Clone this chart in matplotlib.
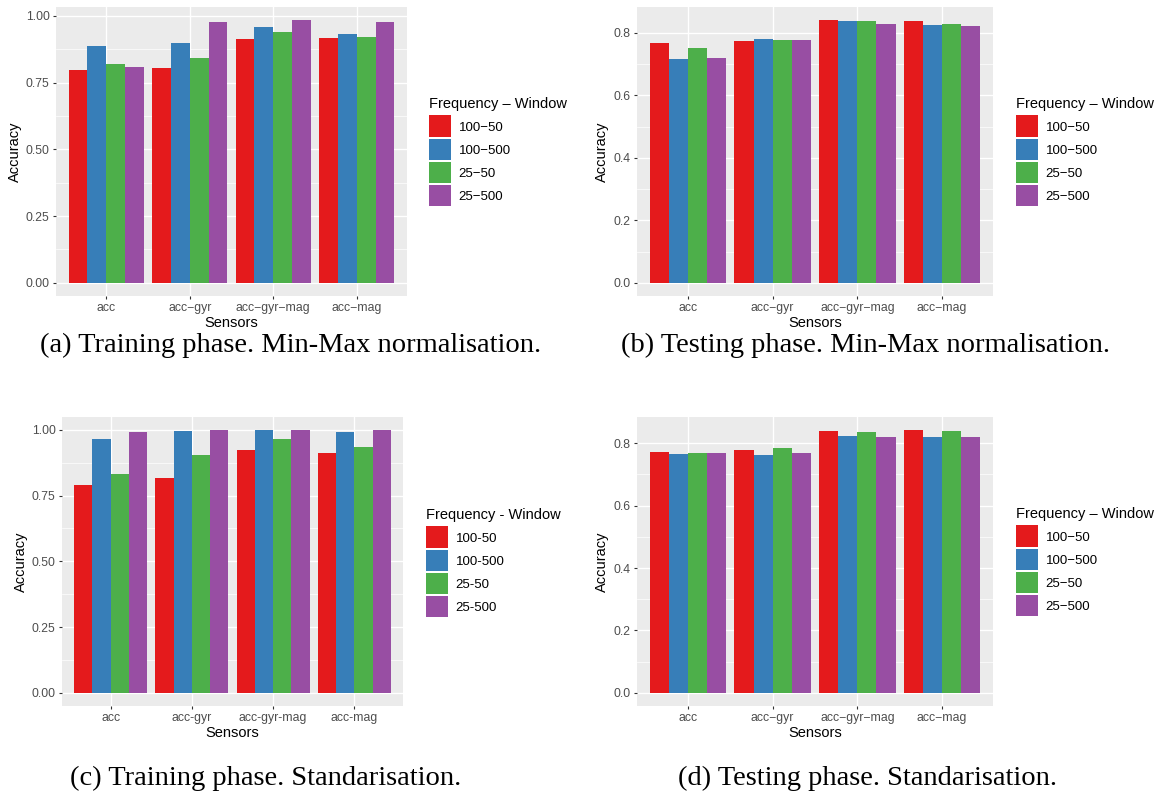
import numpy as np
import matplotlib
matplotlib.use("Agg")
import matplotlib.pyplot as plt
from matplotlib.patches import Patch, Rectangle
from matplotlib.legend_handler import HandlerPatch
from matplotlib.ticker import FixedLocator

# categories and groups
sensors = ["acc", "acc-gyr", "acc-gyr-mag", "acc-mag"]
groups = ["100-50", "100-500", "25-50", "25-500"]
colors = ["#E41A1C", "#377EB8", "#4DAF4A", "#984EA3"]

# accuracy per group, order follows sensors
train_minmax = {
    "100-50":  [0.796, 0.804, 0.913, 0.916],
    "100-500": [0.886, 0.898, 0.958, 0.931],
    "25-50":   [0.819, 0.841, 0.939, 0.920],
    "25-500":  [0.808, 0.976, 0.984, 0.976],
}
test_minmax = {
    "100-50":  [0.767, 0.773, 0.841, 0.837],
    "100-500": [0.716, 0.780, 0.837, 0.825],
    "25-50":   [0.751, 0.777, 0.837, 0.828],
    "25-500":  [0.719, 0.777, 0.828, 0.821],
}
train_std = {
    "100-50":  [0.790, 0.817, 0.923, 0.912],
    "100-500": [0.965, 0.995, 0.999, 0.991],
    "25-50":   [0.832, 0.904, 0.965, 0.934],
    "25-500":  [0.991, 0.999, 0.999, 0.999],
}
test_std = {
    "100-50":  [0.771, 0.778, 0.838, 0.842],
    "100-500": [0.765, 0.762, 0.822, 0.819],
    "25-50":   [0.768, 0.784, 0.835, 0.838],
    "25-500":  [0.768, 0.768, 0.819, 0.819],
}

captions = [
    "(a) Training phase. Min-Max normalisation.",
    "(b) Testing phase. Min-Max normalisation.",
    "(c) Training phase. Standarisation.",
    "(d) Testing phase. Standarisation.",
]

W, H = 1161, 796
fig = plt.figure(figsize=(W / 100, H / 100), dpi=100)
SANS = "Liberation Sans"
SERIF = "Liberation Serif"
KEY = 15.6  # legend key size in points
LEG_FS = 9.5


def key_rect(legend, orig_handle, xdescent, ydescent, width, height, fontsize):
    # square key centred on the label text
    c = 0.36 * fontsize
    return Rectangle((-xdescent, c - KEY / 2), width, KEY)


def px_axes(l, t, r, b):
    return fig.add_axes([l / W, 1 - b / H, (r - l) / W, (b - t) / H])


def panel(box, data, major, minor, fmt, dash, leg_xy, cap_xy, caption):
    ax = px_axes(*box)
    ax.set_facecolor("#EBEBEB")
    x = np.arange(1, len(sensors) + 1)
    bw = 0.9 / len(groups)
    vmax = max(max(v) for v in data.values())
    for i, (g, c) in enumerate(zip(groups, colors)):
        off = (i - (len(groups) - 1) / 2) * bw
        ax.bar(x + off, data[g], width=bw, color=c, zorder=3, linewidth=0)
    ax.set_xlim(0.4, len(sensors) + 0.6)
    ax.set_ylim(-0.05 * vmax, 1.05 * vmax)
    ax.set_xticks(x)
    ax.set_xticklabels([s.replace("-", dash) for s in sensors])
    ax.set_yticks(major)
    ax.set_yticklabels([fmt % v for v in major])
    ax.yaxis.set_minor_locator(FixedLocator(minor))
    ax.grid(True, which="major", color="white", linewidth=1.0, zorder=0)
    ax.grid(True, which="minor", axis="y", color="white", linewidth=0.5, zorder=0)
    ax.set_axisbelow(True)
    for sp in ax.spines.values():
        sp.set_visible(False)
    ax.tick_params(axis="both", which="major", length=2.5, width=0.8, color="#333333",
                   labelcolor="#4D4D4D", labelsize=8.8, pad=2)
    ax.tick_params(axis="y", which="minor", length=0)
    for lab in ax.get_xticklabels() + ax.get_yticklabels():
        lab.set_fontfamily(SANS)
    ax.set_xlabel("Sensors", fontsize=10.5, family=SANS, labelpad=1)
    ax.set_ylabel("Accuracy", fontsize=10.5, family=SANS, labelpad=3)

    handles = [Patch(facecolor=c, edgecolor="none") for c in colors]
    labels = [g.replace("-", dash) for g in groups]
    title = "Frequency %s Window" % ("\u2013" if dash != "-" else "-")
    ax.legend(handles, labels, title=title, loc="upper left",
              bbox_to_anchor=(leg_xy[0] / W, 1 - leg_xy[1] / H),
              bbox_transform=fig.transFigure, frameon=False,
              prop={"family": SANS, "size": LEG_FS},
              title_fontproperties={"family": SANS, "size": 10.5},
              handler_map={Patch: HandlerPatch(patch_func=key_rect)},
              handlelength=KEY / LEG_FS, handleheight=0.7, labelspacing=0.82,
              handletextpad=0.6, borderpad=0, borderaxespad=0,
              alignment="left")
    fig.text(cap_xy[0] / W, 1 - cap_xy[1] / H, caption, family=SERIF,
             fontsize=20.5, ha="center", va="center")
    return ax


minus = "\u2212"
panel((56, 7, 407, 296), train_minmax, [0, 0.25, 0.5, 0.75, 1.0],
      [0.125, 0.375, 0.625, 0.875], "%.2f", minus, (429, 97), (291, 345), captions[0])
panel((637, 7, 993, 296), test_minmax, [0, 0.2, 0.4, 0.6, 0.8],
      [0.1, 0.3, 0.5, 0.7], "%.1f", minus, (1016, 97), (865, 345), captions[1])
panel((62, 417, 403, 706), train_std, [0, 0.25, 0.5, 0.75, 1.0],
      [0.125, 0.375, 0.625, 0.875], "%.2f", "-", (426, 508), (266, 778), captions[2])
panel((637, 417, 993, 706), test_std, [0, 0.2, 0.4, 0.6, 0.8],
      [0.1, 0.3, 0.5, 0.7], "%.1f", minus, (1016, 507), (868, 778), captions[3])

fig.savefig("out.png", dpi=100)
